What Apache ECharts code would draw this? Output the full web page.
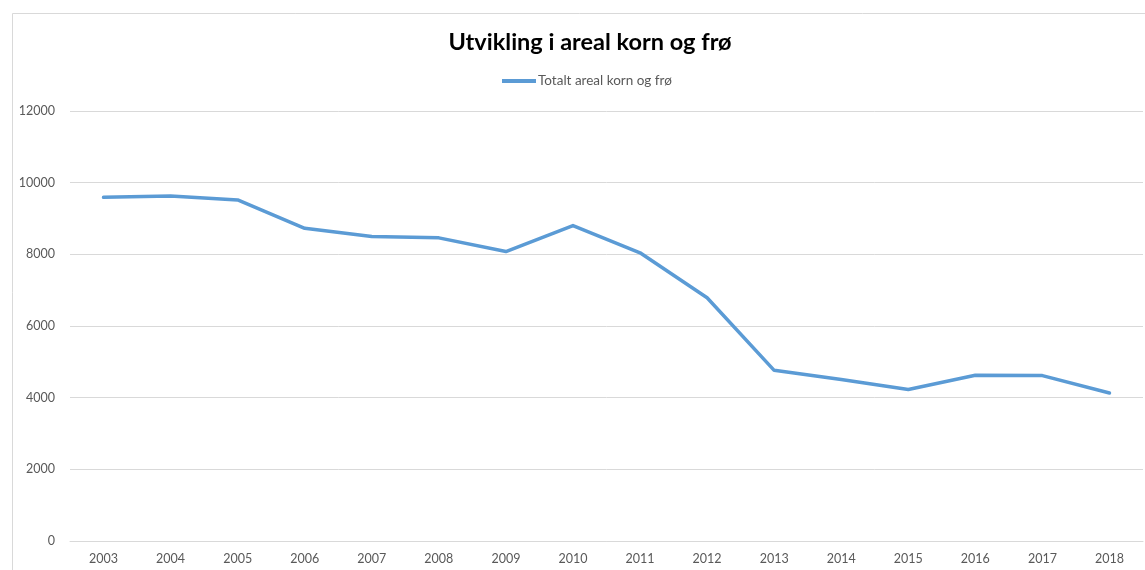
<!DOCTYPE html>
<html>
<head>
<meta charset="utf-8">
<script src="https://cdn.jsdelivr.net/npm/echarts@6/dist/echarts.min.js"></script>
<style>html,body{margin:0;padding:0;background:#fff;}#c{width:1145px;height:570px;}</style>
</head>
<body>
<div id="c"></div>
<script>
const years = ['2003','2004','2005','2006','2007','2008','2009','2010','2011','2012','2013','2014','2015','2016','2017','2018'];
const totaltAreal = [9590, 9630, 9518, 8727, 8496, 8460, 8078, 8802, 8042, 6788, 4763, 4504, 4226, 4624, 4616, 4131];
const seriesName = 'Totalt areal korn og frø';
const titleText = 'Utvikling i areal korn og frø';

const chart = echarts.init(document.getElementById('c'), null, {renderer: 'canvas'});
const font = 'Lato, "Liberation Sans", sans-serif';
chart.setOption({
  animation: false,
  backgroundColor: '#fff',
  graphic: [{
    type: 'rect', left: 10, top: 11, silent: true,
    shape: {width: 1200, height: 620},
    style: {fill: 'none', stroke: '#d9d9d9', lineWidth: 1}
  }],
  title: {
    text: titleText, left: 585, textAlign: 'center', top: 25,
    textStyle: {fontFamily: font, fontSize: 23.5, fontWeight: 'bold', color: '#000'}
  },
  legend: {
    data: [seriesName], left: 502, top: 74, padding: 0, itemWidth: 34, itemHeight: 4, itemGap: 2,
    icon: 'rect',
    textStyle: {fontFamily: font, fontSize: 13.5, color: '#595959', padding: [0,0,0,-3]}
  },
  grid: {left: 70, right: 2, top: 111, bottom: 29, containLabel: false},
  xAxis: {
    type: 'category', data: years, boundaryGap: true,
    axisLine: {show: true, lineStyle: {color: '#d9d9d9', width: 1}},
    axisTick: {show: false},
    axisLabel: {fontFamily: font, fontSize: 12.5, color: '#595959', margin: 11}
  },
  yAxis: {
    type: 'value', min: 0, max: 12000, interval: 2000,
    axisLine: {show: false}, axisTick: {show: false},
    splitLine: {lineStyle: {color: '#d9d9d9', width: 1}},
    axisLabel: {fontFamily: font, fontSize: 12.5, color: '#595959', margin: 15, formatter: v => String(v)}
  },
  series: [{
    name: seriesName, type: 'line', data: totaltAreal,
    showSymbol: false, symbol: 'none',
    lineStyle: {color: '#5b9bd5', width: 3.5, cap: 'round', join: 'round'},
    itemStyle: {color: '#5b9bd5'}
  }]
});
</script>
</body>
</html>
